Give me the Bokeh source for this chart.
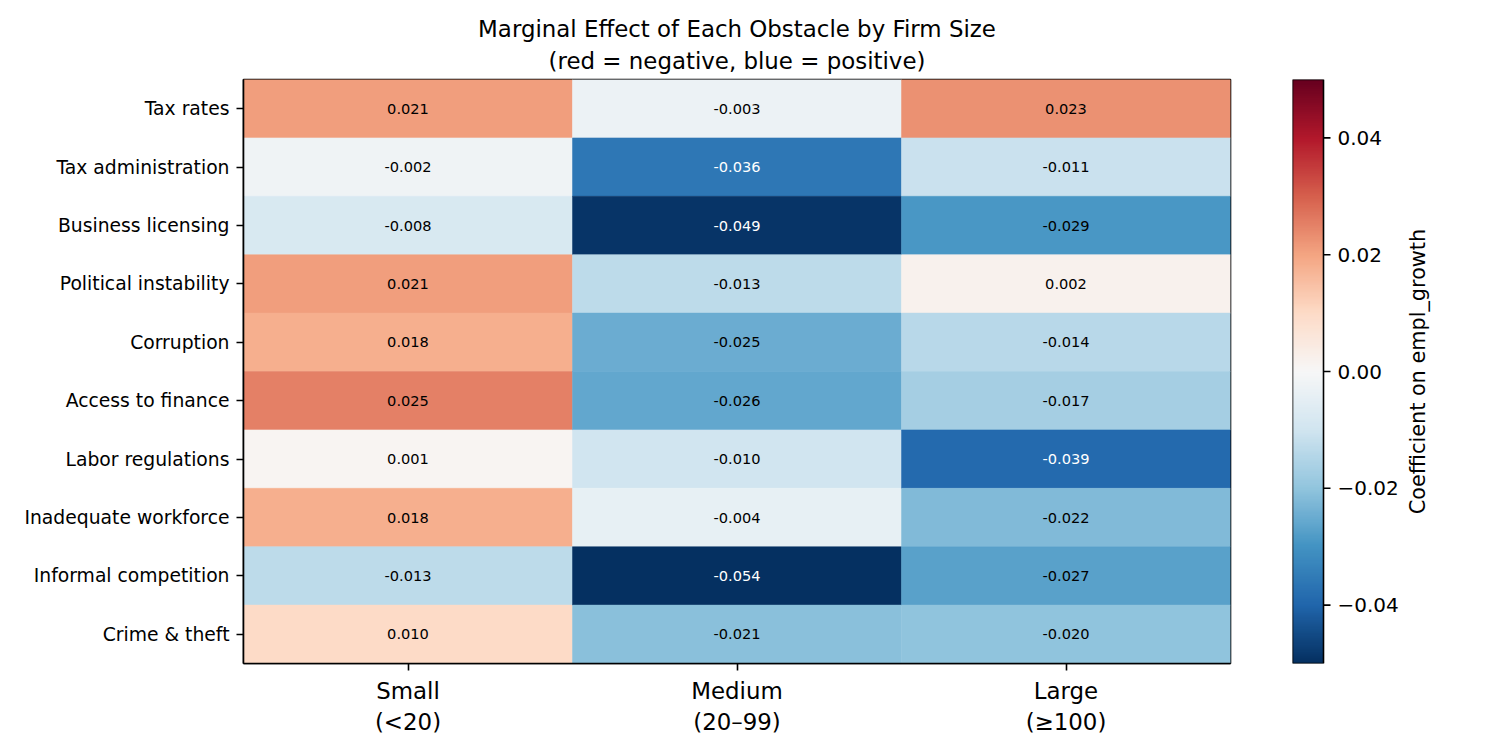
import math

import numpy as np
from bokeh.core.properties import value
from bokeh.embed import file_html
from bokeh.layouts import row
from bokeh.models import (ColumnDataSource, FixedTicker, LinearColorMapper,
                          Range1d, Title)
from bokeh.plotting import figure
from bokeh.resources import INLINE
from bokeh.transform import transform

# --- data -----------------------------------------------------------------
obstacles = [
    "Tax rates", "Tax administration", "Business licensing",
    "Political instability", "Corruption", "Access to finance",
    "Labor regulations", "Inadequate workforce", "Informal competition",
    "Crime & theft",
]
size_labels = ["Small\n(<20)", "Medium\n(20\u201399)", "Large\n(\u2265100)"]

small = [0.021, -0.002, -0.008, 0.021, 0.018, 0.025, 0.001, 0.018, -0.013, 0.010]
medium = [-0.003, -0.036, -0.049, -0.013, -0.025, -0.026, -0.010, -0.004, -0.054, -0.021]
large = [0.023, -0.011, -0.029, 0.002, -0.014, -0.017, -0.039, -0.022, -0.027, -0.020]

cbar_ticks = [-0.04, -0.02, 0.0, 0.02, 0.04]
cbar_title = "Coefficient on empl_growth"

FONT = "DejaVu Sans"
VMIN, VMAX = -0.05, 0.05

# --- diverging palette (blue -> white -> red), 256 steps ------------------
stops = ["#053061", "#2166ac", "#4393c3", "#92c5de", "#d1e5f0", "#f7f7f7",
         "#fddbc7", "#f4a582", "#d6604d", "#b2182b", "#67001f"]


def _rgb(h):
    return tuple(int(h[i:i + 2], 16) for i in (1, 3, 5))


def build_palette(hexes, n=256):
    cols = [_rgb(h) for h in hexes]
    seg = len(cols) - 1
    out = []
    for i in range(n):
        t = i / (n - 1) * seg
        k = min(int(t), seg - 1)
        f = t - k
        a, b = cols[k], cols[k + 1]
        r, g, bl = (round(a[j] + (b[j] - a[j]) * f) for j in range(3))
        out.append("#%02x%02x%02x" % (r, g, bl))
    return out


palette = build_palette(stops)
mapper = LinearColorMapper(palette=palette, low=VMIN, high=VMAX)

# --- cell table -------------------------------------------------------------
xs, ys, vals, labels, tcolors = [], [], [], [], []
for ci, col in enumerate([small, medium, large]):
    for ri, v in enumerate(col):
        xs.append(ci)
        ys.append(ri)
        vals.append(v)
        labels.append(f"{v:.3f}")
        tcolors.append("white" if abs(v) > 0.03 else "black")
src = ColumnDataSource(dict(x=xs, y=ys, v=vals, label=labels, tc=tcolors))

# --- heatmap figure ---------------------------------------------------------
p = figure(
    frame_width=987, frame_height=584,
    min_border_left=243, min_border_right=32,
    min_border_top=79, min_border_bottom=87,
    x_range=Range1d(-0.5, 2.5), y_range=Range1d(9.5, -0.5),
    output_backend="svg", toolbar_location=None,
    background_fill_color="white", border_fill_color="white",
)

p.rect("x", "y", width=1, height=1, source=src,
       fill_color=transform("v", mapper), line_color=transform("v", mapper),
       line_width=0.5)
p.text("x", "y", text="label", source=src, text_color="tc",
       text_align="center", text_baseline="middle",
       text_font=value(FONT), text_font_size="14.6px")

p.xgrid.visible = False
p.ygrid.visible = False
p.outline_line_color = "black"
p.outline_line_width = 1.6

for ax in (p.xaxis, p.yaxis):
    ax.axis_line_color = "black"
    ax.axis_line_width = 1.6
    ax.major_tick_line_color = "black"
    ax.major_tick_line_width = 1.6
    ax.major_tick_out = 7
    ax.major_tick_in = 0
    ax.minor_tick_line_color = None
    ax.major_label_standoff = 7
    ax.major_label_text_font = FONT
    ax.major_label_text_color = "black"

p.xaxis.ticker = FixedTicker(ticks=[0, 1, 2])
p.xaxis.major_label_overrides = {i: s for i, s in enumerate(size_labels)}
p.xaxis.major_label_text_font_size = "22.9px"

p.yaxis.ticker = FixedTicker(ticks=list(range(len(obstacles))))
p.yaxis.major_label_overrides = {i: s for i, s in enumerate(obstacles)}
p.yaxis.major_label_text_font_size = "18.75px"

# titles: the first one added sits closest to the frame
p.add_layout(Title(text="(red = negative, blue = positive)", align="center",
                   text_font=FONT, text_font_size="22.9px",
                   text_font_style="normal", text_color="black",
                   standoff=12), "above")
p.add_layout(Title(text="Marginal Effect of Each Obstacle by Firm Size",
                   align="center", text_font=FONT, text_font_size="22.9px",
                   text_font_style="normal", text_color="black",
                   standoff=-4), "above")

# --- colour bar figure ------------------------------------------------------
BAR_W = 31
cb = figure(
    frame_width=168, frame_height=584,
    min_border_left=30, min_border_right=40,
    min_border_top=79, min_border_bottom=87,
    x_range=Range1d(0, 168), y_range=Range1d(VMIN, VMAX),
    x_axis_location=None, y_axis_location=None,
    output_backend="svg", toolbar_location=None,
    background_fill_color="white", border_fill_color="white",
)
cb.xgrid.visible = False
cb.ygrid.visible = False
cb.outline_line_color = None

gradient = np.linspace(VMIN, VMAX, 256).reshape(256, 1)
cb.image(image=[gradient], x=0, y=VMIN, dw=BAR_W, dh=VMAX - VMIN,
         color_mapper=mapper)
cb.quad(left=0, right=BAR_W, bottom=VMIN, top=VMAX,
        fill_color=None, line_color="black", line_width=1.6)

tick_src = ColumnDataSource(dict(
    y=cbar_ticks,
    x0=[BAR_W] * len(cbar_ticks),
    x1=[BAR_W + 7] * len(cbar_ticks),
    xl=[BAR_W + 14] * len(cbar_ticks),
    lab=[f"{t:.2f}".replace("-", "\u2212") for t in cbar_ticks],
))
cb.segment(x0="x0", y0="y", x1="x1", y1="y", source=tick_src,
           line_color="black", line_width=1.6)
cb.text(x="xl", y="y", text="lab", source=tick_src,
        text_align="left", text_baseline="middle",
        text_font=value(FONT), text_font_size="20px", text_color="black")

cb.text(x=[125], y=[(VMIN + VMAX) / 2], text=[cbar_title], angle=math.pi / 2,
        text_align="center", text_baseline="middle",
        text_font=value(FONT), text_font_size="20.8px", text_color="black")

layout = row(p, cb)
open("out.html", "w").write(file_html(layout, INLINE))
